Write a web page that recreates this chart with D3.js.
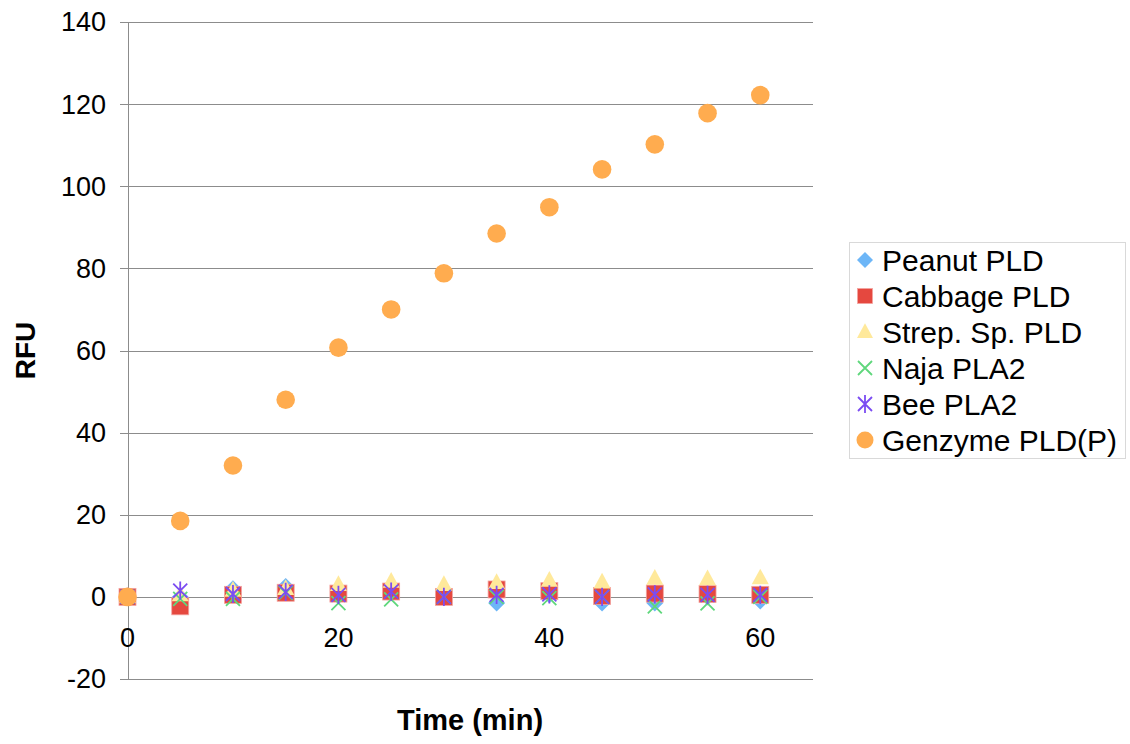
<!DOCTYPE html>
<html>
<head>
<meta charset="utf-8">
<script src="https://cdn.jsdelivr.net/npm/d3@7"></script>
<style>
    body { margin: 0; background: #fff; }
    svg { font-family: "Liberation Sans", Arial, Helvetica, sans-serif; }
</style>
</head>
<body>
<svg id="chart" width="1130" height="744"></svg>
<script>
"use strict";

// Data
const times = [0, 5, 10, 15, 20, 25, 30, 35, 40, 45, 50, 55, 60];
const peanut = [0, 0, 2, 2.5, 1, 1, 0.5, -1.5, 0.5, -1.5, -1.5, 0, -1];
const cabbage = [0, -2.3, 0.5, 1, 0.8, 1.3, 0, 1.8, 1.4, 0.2, 0.8, 0.7, 0.5];
const strep = [0, 0.5, 1.6, 2, 3, 3.8, 3, 3.5, 4, 3.6, 4.5, 4.4, 4.6];
const naja = [0, -0.5, -0.5, 1, -1.5, -0.6, 0, 0, -0.3, 0, -2.3, -1.6, 0];
const bee = [0, 1.5, 0.7, 1.2, 0.5, 1.3, 0, 0.5, 0.6, 0, 0.6, 0.5, 0.5];
const genzyme = [0, 18.5, 32, 48, 60.7, 70, 78.8, 88.5, 94.9, 104.1, 110.2, 117.8, 122.2];

const seriesNames = ["Peanut PLD", "Cabbage PLD", "Strep. Sp. PLD", "Naja PLA2", "Bee PLA2", "Genzyme PLD(P)"];
const seriesValues = [peanut, cabbage, strep, naja, bee, genzyme];
const seriesColors = ["#6db6f7", "#e5483f", "#ffe99b", "#5fd77c", "#7b4cf2", "#ffac4f"];
const seriesShapes = ["diamond", "square", "triangle", "x", "star", "circle"];

const yTicks = [-20, 0, 20, 40, 60, 80, 100, 120, 140];
const xTicks = [0, 20, 40, 60];

// Layout
const plot = { left: 128, right: 813, top: 22, bottom: 679 };
const svg = d3.select("#chart");

const xScale = d3.scaleLinear().domain([0, 65]).range([plot.left - 0.5, plot.right]);
const yScale = d3.scaleLinear().domain([-20, 140]).range([plot.bottom, plot.top]);

const gridColor = "#8c8c8c";

// horizontal gridlines
svg.append("g").selectAll("line")
    .data(yTicks)
    .join("line")
    .attr("x1", plot.left - 8)
    .attr("x2", plot.right)
    .attr("y1", d => Math.round(yScale(d)) + 0.5)
    .attr("y2", d => Math.round(yScale(d)) + 0.5)
    .attr("stroke", gridColor)
    .attr("stroke-width", 1);

// y axis line
svg.append("line")
    .attr("x1", plot.left + 0.5).attr("x2", plot.left + 0.5)
    .attr("y1", plot.top).attr("y2", plot.bottom)
    .attr("stroke", gridColor);

// y tick labels
svg.append("g").selectAll("text")
    .data(yTicks)
    .join("text")
    .attr("x", 106)
    .attr("y", d => yScale(d))
    .attr("dy", "0.35em")
    .attr("text-anchor", "end")
    .attr("font-size", 27)
    .text(d => d);

// x tick labels (below the zero line)
svg.append("g").selectAll("text")
    .data(xTicks)
    .join("text")
    .attr("x", d => xScale(d))
    .attr("y", 647)
    .attr("text-anchor", "middle")
    .attr("font-size", 27)
    .text(d => d);

// axis titles
svg.append("text")
    .attr("x", 470).attr("y", 730)
    .attr("text-anchor", "middle")
    .attr("font-size", 29)
    .attr("font-weight", "bold")
    .text("Time (min)");

svg.append("text")
    .attr("transform", `translate(35, ${(plot.top + plot.bottom) / 2}) rotate(-90)`)
    .attr("text-anchor", "middle")
    .attr("font-size", 28)
    .attr("font-weight", "bold")
    .text("RFU");

// marker shapes
function drawMarker(g, shape, color, s) {
    if (shape === "diamond") {
        g.append("path").attr("d", `M0,${-s}L${s},0L0,${s}L${-s},0Z`).attr("fill", color);
    } else if (shape === "square") {
        g.append("rect").attr("x", -s).attr("y", -s).attr("width", 2 * s).attr("height", 2 * s)
            .attr("fill", color).attr("stroke", "#f3a4a0").attr("stroke-width", 0.8);
    } else if (shape === "triangle") {
        g.append("path").attr("d", `M0,${-s * 1.1}L${s},${s * 0.75}L${-s},${s * 0.75}Z`).attr("fill", color);
    } else if (shape === "x") {
        g.append("path").attr("d", `M${-s},${-s}L${s},${s}M${-s},${s}L${s},${-s}`)
            .attr("stroke", color).attr("stroke-width", 1.8).attr("fill", "none");
    } else if (shape === "star") {
        g.append("path").attr("d", `M${-s},${-s}L${s},${s}M${-s},${s}L${s},${-s}M0,${-s * 1.3}L0,${s * 1.3}`)
            .attr("stroke", color).attr("stroke-width", 1.8).attr("fill", "none");
    } else {
        g.append("circle").attr("r", s).attr("fill", color);
    }
}

const plotSizes = { diamond: 8.5, square: 8.5, triangle: 8.5, x: 7, star: 7, circle: 9.3 };

// series, drawn in order so later ones sit on top
seriesValues.forEach((vals, si) => {
    const grp = svg.append("g");
    vals.forEach((v, i) => {
        const m = grp.append("g")
            .attr("transform", `translate(${xScale(times[i])}, ${yScale(v)})`);
        drawMarker(m, seriesShapes[si], seriesColors[si], plotSizes[seriesShapes[si]]);
    });
});

// legend
const legend = svg.append("g");
legend.append("rect")
    .attr("x", 849.5).attr("y", 242.5)
    .attr("width", 276).attr("height", 216)
    .attr("fill", "#fff")
    .attr("stroke", "#d9d9d9");

const legendSizes = { diamond: 8, square: 7.5, triangle: 8, x: 7, star: 7, circle: 8.5 };
seriesNames.forEach((name, i) => {
    const cy = 260 + i * 36;
    const m = legend.append("g").attr("transform", `translate(865, ${cy})`);
    drawMarker(m, seriesShapes[i], seriesColors[i], legendSizes[seriesShapes[i]]);
    legend.append("text")
        .attr("x", 882).attr("y", cy)
        .attr("dy", "0.36em")
        .attr("font-size", 30)
        .text(name);
});
</script>
</body>
</html>
